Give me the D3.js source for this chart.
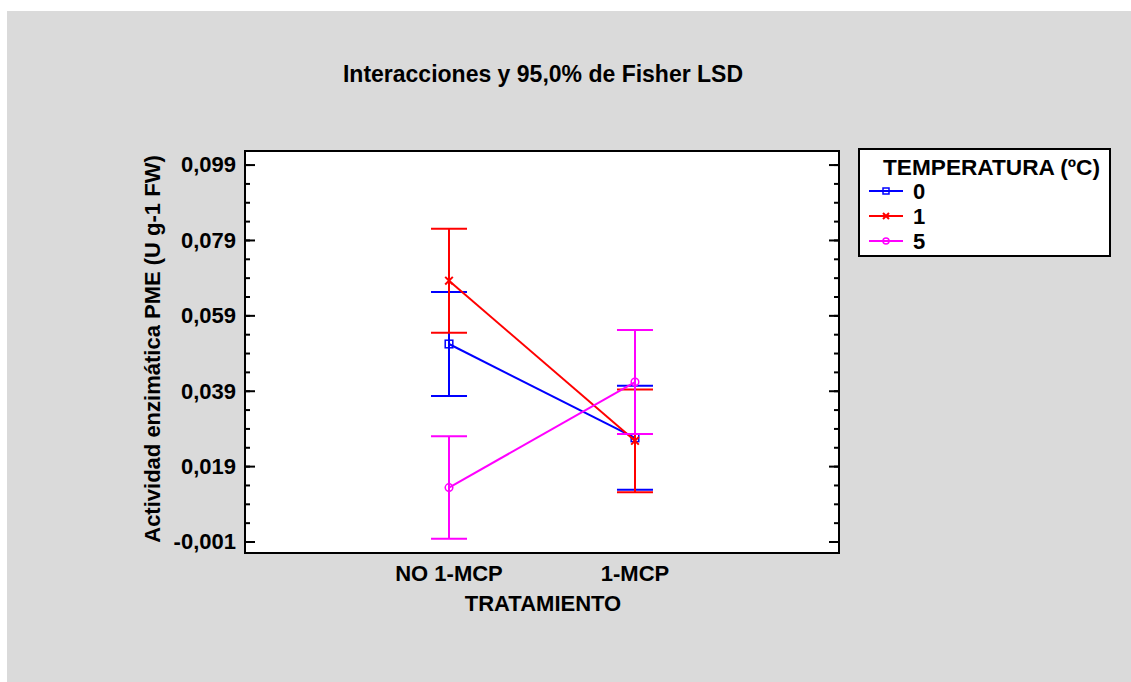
<!DOCTYPE html>
<html>
<head>
<meta charset="utf-8">
<script src="https://cdn.jsdelivr.net/npm/d3@7/dist/d3.min.js"></script>
<style>
  body { margin: 0; background: #ffffff; }
  text { font-family: "Liberation Sans", Arial, sans-serif; font-weight: bold; fill: #000; }
</style>
</head>
<body>
<script>
// Data.
var tratamientos = ["NO 1-MCP", "1-MCP"];
var temperaturas = ["0", "1", "5"];
var colores = ["#0000ff", "#ff0000", "#ff00ff"];
var medias = [
  [0.0514, 0.0265],   // 0 ºC
  [0.0682, 0.0257],   // 1 ºC
  [0.0133, 0.0413]    // 5 ºC
];
var lsdMitad = [
  [0.0138, 0.0138],
  [0.0138, 0.0136],
  [0.0136, 0.0138]
];
var yTicks = [-0.001, 0.019, 0.039, 0.059, 0.079, 0.099];

var W = 1131, H = 682;
var margin = { top: 151, left: 245, right: 1131 - 839, bottom: 682 - 553 };
var fs = "22px";

var svg = d3.select("body").append("svg")
  .attr("width", W)
  .attr("height", H);

// Gray panel.
svg.append("rect")
  .attr("x", 7).attr("y", 11)
  .attr("width", W - 7).attr("height", H - 11)
  .attr("fill", "#dadada");

var x0 = margin.left, x1 = W - margin.right;
var y0 = margin.top, y1 = H - margin.bottom;

var xScale = d3.scalePoint()
  .domain(tratamientos)
  .range([x0, x1])
  .padding(1.097);

var yScale = d3.scaleLinear()
  .domain([-0.00405, 0.1026])
  .range([y1, y0]);

// Plot area.
svg.append("rect")
  .attr("x", x0).attr("y", y0)
  .attr("width", x1 - x0).attr("height", y1 - y0)
  .attr("fill", "#ffffff");

// Title.
svg.append("text")
  .attr("x", 543)
  .attr("y", 82)
  .attr("text-anchor", "middle")
  .style("font-size", "23px")
  .text("Interacciones y 95,0% de Fisher LSD");

// Minor ticks every 0.005 inside both sides.
var minor = d3.range(-0.001, 0.1026, 0.005);
var fmt = function (v) { return d3.format(".3f")(v).replace(".", ",").replace("−", "-"); };

var leftAxis = d3.axisRight(yScale).tickValues(yTicks).tickSize(10).tickFormat("");
var rightAxis = d3.axisLeft(yScale).tickValues(yTicks).tickSize(10).tickFormat("");
var leftMinor = d3.axisRight(yScale).tickValues(minor).tickSize(5).tickFormat("");
var rightMinor = d3.axisLeft(yScale).tickValues(minor).tickSize(5).tickFormat("");

[[leftAxis, x0], [leftMinor, x0], [rightAxis, x1], [rightMinor, x1]].forEach(function (a) {
  var g = svg.append("g").attr("transform", "translate(" + a[1] + ",0)").call(a[0]);
  g.select(".domain").remove();
  g.selectAll("line").attr("stroke", "#000").attr("stroke-width", 2);
});

// Y tick labels.
svg.selectAll(".ylab")
  .data(yTicks)
  .enter().append("text")
  .attr("class", "ylab")
  .attr("x", 236)
  .attr("y", d => yScale(d))
  .attr("dy", "0.36em")
  .attr("text-anchor", "end")
  .style("font-size", fs)
  .text(fmt);

// Y axis title.
svg.append("text")
  .attr("transform", "translate(160,349) rotate(-90)")
  .attr("text-anchor", "middle")
  .style("font-size", fs)
  .text("Actividad enzimática PME (U g-1 FW)");

// X tick labels.
svg.selectAll(".xlab")
  .data(tratamientos)
  .enter().append("text")
  .attr("class", "xlab")
  .attr("x", d => xScale(d))
  .attr("y", 581)
  .attr("text-anchor", "middle")
  .style("font-size", fs)
  .text(d => d);

svg.append("text")
  .attr("x", 543)
  .attr("y", 611)
  .attr("text-anchor", "middle")
  .style("font-size", fs)
  .text("TRATAMIENTO");

// Markers.
function drawMarker(g, i, cx, cy, size) {
  var c = colores[i];
  if (i === 0) {
    g.append("rect").attr("x", cx - size).attr("y", cy - size)
      .attr("width", size * 2).attr("height", size * 2)
      .attr("fill", "none").attr("stroke", c).attr("stroke-width", 1.5);
  } else if (i === 1) {
    g.append("path")
      .attr("d", "M" + (cx - size) + "," + (cy - size) + "L" + (cx + size) + "," + (cy + size) +
        "M" + (cx - size) + "," + (cy + size) + "L" + (cx + size) + "," + (cy - size))
      .attr("stroke", c).attr("stroke-width", 2);
  } else {
    g.append("circle").attr("cx", cx).attr("cy", cy).attr("r", size)
      .attr("fill", "none").attr("stroke", c).attr("stroke-width", 1.5);
  }
}

var capHalf = 18;
var plot = svg.append("g");

temperaturas.forEach(function (t, i) {
  var g = plot.append("g");
  var c = colores[i];
  // Connecting line.
  g.append("path")
    .datum(tratamientos)
    .attr("d", d3.line().x(d => xScale(d)).y((d, j) => yScale(medias[i][j])))
    .attr("fill", "none")
    .attr("stroke", c)
    .attr("stroke-width", 2);
  tratamientos.forEach(function (tr, j) {
    var cx = xScale(tr);
    var hi = yScale(medias[i][j] + lsdMitad[i][j]);
    var lo = yScale(medias[i][j] - lsdMitad[i][j]);
    g.append("line").attr("x1", cx).attr("x2", cx).attr("y1", hi).attr("y2", lo)
      .attr("stroke", c).attr("stroke-width", 2);
    [hi, lo].forEach(function (yy) {
      g.append("line").attr("x1", cx - capHalf).attr("x2", cx + capHalf)
        .attr("y1", yy).attr("y2", yy)
        .attr("stroke", c).attr("stroke-width", 2);
    });
    drawMarker(g, i, cx, yScale(medias[i][j]), 3.8);
  });
});

// Frame.
svg.append("rect")
  .attr("x", x0).attr("y", y0)
  .attr("width", x1 - x0).attr("height", y1 - y0)
  .attr("fill", "none")
  .attr("stroke", "#000")
  .attr("stroke-width", 2);

// Legend.
var lg = svg.append("g");
lg.append("rect")
  .attr("x", 859).attr("y", 149)
  .attr("width", 251).attr("height", 107)
  .attr("fill", "#ffffff")
  .attr("stroke", "#000")
  .attr("stroke-width", 2);
lg.append("text")
  .attr("x", 883).attr("y", 175)
  .attr("textLength", 217)
  .attr("lengthAdjust", "spacingAndGlyphs")
  .style("font-size", fs)
  .text("TEMPERATURA (ºC)");
temperaturas.forEach(function (t, i) {
  var yy = 191 + i * 25;
  lg.append("line").attr("x1", 869).attr("x2", 903).attr("y1", yy).attr("y2", yy)
    .attr("stroke", colores[i]).attr("stroke-width", 2);
  drawMarker(lg, i, 886, yy, 3);
  lg.append("text")
    .attr("x", 913).attr("y", yy)
    .attr("dy", "0.36em")
    .style("font-size", fs)
    .text(t);
});
</script>
</body>
</html>
